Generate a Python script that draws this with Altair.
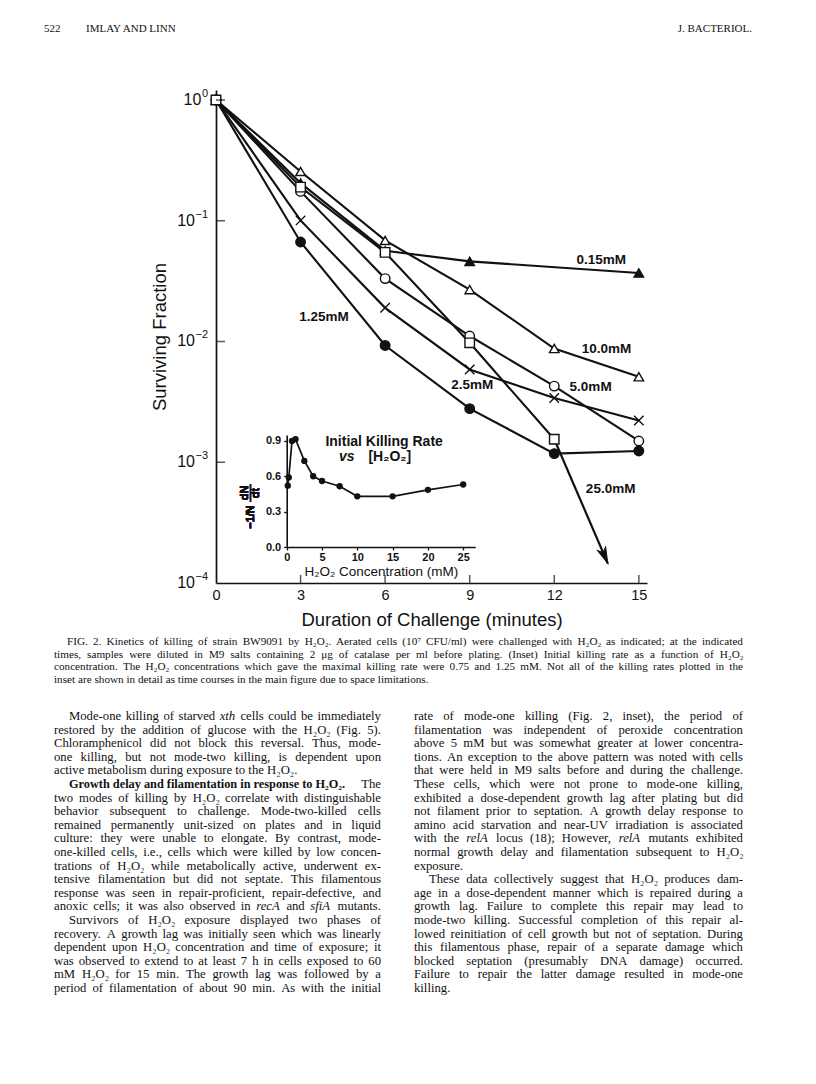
import altair as alt
import pandas as pd

# ---------------- data ----------------
times = [0, 3, 6, 9, 12, 15]
series_names = ["0.15mM", "10.0mM", "5.0mM", "2.5mM", "1.25mM", "25.0mM"]
surv_015 = [1.0, 0.205, 0.0565, 0.0461, None, 0.0369]
surv_100 = [1.0, 0.256, 0.0687, 0.0269, 0.00875, 0.0051]
surv_050 = [1.0, 0.175, 0.0332, 0.0111, 0.00427, 0.0015]
surv_025 = [1.0, 0.1007, 0.019, 0.00587, 0.0034, 0.00222]
surv_0125 = [1.0, 0.0667, 0.00927, 0.00278, 0.00118, 0.00124]
surv_250 = [1.0, 0.19, 0.0547, 0.00975, 0.00155, None]
arrow_times = [12, 13.9]
arrow_surv = [0.00155, 0.000145]

inset_conc = [0.15, 0.3, 0.75, 1.25, 2.5, 3.75, 5, 7.5, 10, 15, 20, 25]
inset_rate = [0.52, 0.59, 0.90, 0.915, 0.73, 0.60, 0.56, 0.515, 0.43, 0.43, 0.485, 0.53]

x_ticks = [0, 3, 6, 9, 12, 15]
y_ticks = [1, 0.1, 0.01, 0.001, 0.0001]
y_tick_exps = ["0", "−1", "−2", "−3", "−4"]
inset_x_ticks = [0, 5, 10, 15, 20, 25]
inset_y_ticks = [0.0, 0.3, 0.6, 0.9]

# series label anchors (data coordinates)
label_t = [13.67, 13.85, 13.29, 9.09, 3.83, 14.0]
label_s = [0.047, 0.00875, 0.00422, 0.00433, 0.016, 0.000605]

header_texts = ["522", "IMLAY AND LINN", "J. BACTERIOL."]
caption_lines = [
    "FIG. 2. Kinetics of killing of strain BW9091 by H₂O₂. Aerated cells (10⁷ CFU/ml) were challenged with H₂O₂ as indicated; at the indicated",
    "times, samples were diluted in M9 salts containing 2 μg of catalase per ml before plating. (Inset) Initial killing rate as a function of H₂O₂",
    "concentration. The H₂O₂ concentrations which gave the maximal killing rate were 0.75 and 1.25 mM. Not all of the killing rates plotted in the",
    "inset are shown in detail as time courses in the main figure due to space limitations.",
]
left_lines = [
    "Mode-one killing of starved xth cells could be immediately",
    "restored by the addition of glucose with the H₂O₂ (Fig. 5).",
    "Chloramphenicol did not block this reversal. Thus, mode-",
    "one killing, but not mode-two killing, is dependent upon",
    "active metabolism during exposure to the H₂O₂.",
    "",
    "two modes of killing by H₂O₂ correlate with distinguishable",
    "behavior subsequent to challenge. Mode-two-killed cells",
    "remained permanently unit-sized on plates and in liquid",
    "culture: they were unable to elongate. By contrast, mode-",
    "one-killed cells, i.e., cells which were killed by low concen-",
    "trations of H₂O₂ while metabolically active, underwent ex-",
    "tensive filamentation but did not septate. This filamentous",
    "response was seen in repair-proficient, repair-defective, and",
    "anoxic cells; it was also observed in recA and sfiA mutants.",
    "Survivors of H₂O₂ exposure displayed two phases of",
    "recovery. A growth lag was initially seen which was linearly",
    "dependent upon H₂O₂ concentration and time of exposure; it",
    "was observed to extend to at least 7 h in cells exposed to 60",
    "mM H₂O₂ for 15 min. The growth lag was followed by a",
    "period of filamentation of about 90 min. As with the initial",
]
left_heading = "Growth delay and filamentation in response to H₂O₂."
left_heading_tail = "The"
right_lines = [
    "rate of mode-one killing (Fig. 2, inset), the period of",
    "filamentation was independent of peroxide concentration",
    "above 5 mM but was somewhat greater at lower concentra-",
    "tions. An exception to the above pattern was noted with cells",
    "that were held in M9 salts before and during the challenge.",
    "These cells, which were not prone to mode-one killing,",
    "exhibited a dose-dependent growth lag after plating but did",
    "not filament prior to septation. A growth delay response to",
    "amino acid starvation and near-UV irradiation is associated",
    "with the relA locus (18); However, relA mutants exhibited",
    "normal growth delay and filamentation subsequent to H₂O₂",
    "exposure.",
    "These data collectively suggest that H₂O₂ produces dam-",
    "age in a dose-dependent manner which is repaired during a",
    "growth lag. Failure to complete this repair may lead to",
    "mode-two killing. Successful completion of this repair al-",
    "lowed reinitiation of cell growth but not of septation. During",
    "this filamentous phase, repair of a separate damage which",
    "blocked septation (presumably DNA damage) occurred.",
    "Failure to repair the latter damage resulted in mode-one",
    "killing.",
]
left_indent = [0, 5, 15]
left_ragged = [4]
right_indent = [12]
right_ragged = [11, 20]
italic_words = {"xth", "recA", "sfiA", "relA"}

# ---------------- layout constants ----------------
W, H = 431, 493          # main plot area
OX, OY = 216, 90         # page position of plot origin
INK = "#111111"
SANS = "Liberation Sans"
SERIF = "Liberation Serif"
X_PATH = "M-1,-1L1,1M-1,1L1,-1"
ARROW_PATH = "M0,0L-0.55,-2L0,-1.5L0.55,-2Z"

# ---------------- main chart ----------------
rows = []
for name, vals in zip(series_names, [surv_015, surv_100, surv_050, surv_025, surv_0125, surv_250]):
    for t, v in zip(times, vals):
        if v is not None:
            rows.append({"series": name, "t": t, "s": v})
df = pd.DataFrame(rows)

xscale = alt.Scale(domain=[0, 15.29], nice=False, zero=False)
yscale = alt.Scale(type="log", domain=[1e-4, 1.21], nice=False)

x_main = alt.X("t:Q", scale=xscale, axis=alt.Axis(
    orient="bottom", values=x_ticks, title="Duration of Challenge (minutes)",
    ticks=False, labelPadding=5, labelFontSize=14.5, labelFont=SANS, labelColor=INK,
    titleFont=SANS, titleFontSize=18.5, titleFontWeight="normal", titleColor=INK,
    titlePadding=9, domainColor=INK, domainWidth=1.7, grid=False, labelFlush=False))
y_main = alt.Y("s:Q", scale=yscale, axis=alt.Axis(
    orient="left", values=y_ticks, labels=False, ticks=False,
    title="Surviving Fraction", titleFont=SANS, titleFontSize=18.5,
    titleFontWeight="normal", titleColor=INK, titlePadding=47,
    domainColor=INK, domainWidth=1.7, grid=False))

lines = alt.Chart(df).mark_line(color=INK, strokeWidth=2.1).encode(
    x=x_main, y=y_main, detail="series:N")

arrow_df = pd.DataFrame({"t": arrow_times, "s": arrow_surv})
arrow_line = alt.Chart(arrow_df).mark_line(color=INK, strokeWidth=2.2).encode(x="t:Q", y="s:Q")
arrow_head = alt.Chart(arrow_df.iloc[[1]]).mark_point(
    shape=ARROW_PATH, filled=True, fill=INK, stroke=INK, strokeWidth=1, opacity=1,
    size=256, angle=337).encode(x="t:Q", y="s:Q")

markers = alt.Chart(df).mark_point(filled=True, stroke=INK, strokeWidth=1.4, opacity=1).encode(
    x="t:Q", y="s:Q",
    shape=alt.Shape("series:N", legend=None, scale=alt.Scale(
        domain=series_names,
        range=["triangle-up", "triangle-up", "circle", X_PATH, "circle", "square"])),
    fill=alt.Fill("series:N", legend=None, scale=alt.Scale(
        domain=series_names, range=[INK, "white", "white", "white", INK, "white"])),
    size=alt.Size("series:N", legend=None, scale=alt.Scale(
        domain=series_names, range=[90, 90, 70, 45, 55, 70])),
)

lab_df = pd.DataFrame({"label": series_names, "t": label_t, "s": label_s})
labels = alt.Chart(lab_df).mark_text(
    font=SANS, fontSize=13.5, fontWeight="bold", color=INK, align="center", baseline="middle"
).encode(x="t:Q", y="s:Q", text="label:N")

xt = alt.Chart(pd.DataFrame({"t": x_ticks[1:]})).mark_tick(
    color=INK, thickness=1.5, size=8).encode(x="t:Q", y=alt.value(H - 4))
yt = alt.Chart(pd.DataFrame({"s": y_ticks[:-1]})).mark_tick(
    color=INK, thickness=1.5, size=9).encode(y="s:Q", x=alt.value(4.5))

# y tick labels: "10" with a raised exponent
ylab_df = pd.DataFrame({"s": y_ticks, "exp": y_tick_exps})
EXP_RIGHT = -8
y_exp = alt.Chart(ylab_df).mark_text(
    font=SANS, fontSize=11, color=INK, align="right", baseline="middle", dy=-6
).encode(y="s:Q", x=alt.value(EXP_RIGHT), text="exp:N")
y_ten0 = alt.Chart(ylab_df.iloc[[0]]).mark_text(
    font=SANS, fontSize=16, color=INK, align="right", baseline="middle"
).encode(y="s:Q", x=alt.value(EXP_RIGHT - 6.6), text=alt.value("10"))
y_ten = alt.Chart(ylab_df.iloc[1:]).mark_text(
    font=SANS, fontSize=16, color=INK, align="right", baseline="middle"
).encode(y="s:Q", x=alt.value(EXP_RIGHT - 13.0), text=alt.value("10"))

main = alt.layer(lines, arrow_line, arrow_head, markers, labels, xt, yt, y_exp, y_ten0, y_ten)

# ---------------- inset ----------------
inset_df = pd.DataFrame({"conc": inset_conc, "rate": inset_rate})
ix_scale = alt.Scale(domain=[0, 26.7], range=[70.7, 259.2], nice=False, zero=False)
iy_scale = alt.Scale(domain=[0, 0.95], range=[457, 345], nice=False, zero=False)
ix = alt.X("conc:Q", scale=ix_scale, axis=alt.Axis(
    orient="bottom", offset=-36, values=inset_x_ticks, title="H₂O₂ Concentration (mM)",
    tickSize=3, tickColor=INK, tickWidth=1.3, labelPadding=1, labelFontSize=11,
    labelFontWeight="bold", labelFont=SANS, labelColor=INK, titleFont=SANS, titleFontSize=13.5,
    titleFontWeight="normal", titleColor=INK, titlePadding=2, domainColor=INK,
    domainWidth=1.6, grid=False, labelFlush=False))
iy = alt.Y("rate:Q", scale=iy_scale, axis=alt.Axis(
    orient="left", offset=-70.7, values=inset_y_ticks, format=".1f", title=None,
    tickSize=3, tickColor=INK, tickWidth=1.3, labelPadding=3, labelFontSize=11,
    labelFontWeight="bold", labelFont=SANS, labelColor=INK, domainColor=INK,
    domainWidth=1.6, grid=False, labelFlush=False))

i_line = alt.Chart(inset_df).mark_line(color=INK, strokeWidth=1.7).encode(x=ix, y=iy)
i_pts = alt.Chart(inset_df).mark_circle(color=INK, size=40, opacity=1).encode(x="conc:Q", y="rate:Q")

ititle_df = pd.DataFrame({"conc": [13.8], "rate": [0.889], "text": ["Initial Killing Rate"]})
i_title = alt.Chart(ititle_df).mark_text(font=SANS, fontSize=14, fontWeight="bold", color=INK).encode(
    x="conc:Q", y="rate:Q", text="text:N")
ivs_df = pd.DataFrame({"conc": [8.5], "rate": [0.767], "text": ["vs"]})
i_vs = alt.Chart(ivs_df).mark_text(font=SANS, fontSize=14, fontWeight="bold", fontStyle="italic",
                                   color=INK).encode(x="conc:Q", y="rate:Q", text="text:N")
ih_df = pd.DataFrame({"conc": [14.6], "rate": [0.767], "text": ["[H₂O₂]"]})
i_h = alt.Chart(ih_df).mark_text(font=SANS, fontSize=14, fontWeight="bold", color=INK).encode(
    x="conc:Q", y="rate:Q", text="text:N")

# y-axis title of the inset: -1/N dN/dt (rotated)
i_yt1 = alt.Chart(inset_df).mark_text(font=SANS, fontSize=11, fontWeight="bold", angle=270,
                                      color=INK).encode(
    x=alt.value(251 - OX), y=alt.value(517 - OY), text=alt.value("−1/N"))
i_yt2 = alt.Chart(inset_df).mark_text(font=SANS, fontSize=11, fontWeight="bold", angle=270,
                                      color=INK).encode(
    x=alt.value(245 - OX), y=alt.value(493 - OY), text=alt.value("dN"))
i_yt3 = alt.Chart(inset_df).mark_text(font=SANS, fontSize=11, fontWeight="bold", angle=270,
                                      color=INK).encode(
    x=alt.value(256 - OX), y=alt.value(493 - OY), text=alt.value("dt"))
i_bar = alt.Chart(inset_df).mark_rule(color=INK, strokeWidth=1.1).encode(
    x=alt.value(250.5 - OX), y=alt.value(484 - OY), y2=alt.value(502 - OY))

inset = alt.layer(i_line, i_pts, i_title, i_vs, i_h, i_yt1, i_yt2, i_yt3, i_bar)

# ---------------- page text (justified word by word) ----------------
TIMES_W = {' ': 250, '!': 333, '"': 408, "'": 180, '(': 333, ')': 333, ',': 250, '-': 333,
           '.': 250, '/': 278, ':': 278, ';': 278, '?': 444, '[': 333, ']': 333,
           'A': 722, 'B': 667, 'C': 667, 'D': 722, 'E': 611, 'F': 556, 'G': 722, 'H': 722,
           'I': 333, 'J': 389, 'K': 722, 'L': 611, 'M': 889, 'N': 722, 'O': 722, 'P': 556,
           'Q': 722, 'R': 667, 'S': 556, 'T': 611, 'U': 722, 'V': 722, 'W': 944, 'X': 722,
           'Y': 722, 'Z': 611, 'a': 444, 'b': 500, 'c': 444, 'd': 500, 'e': 444, 'f': 333,
           'g': 500, 'h': 500, 'i': 278, 'j': 278, 'k': 500, 'l': 278, 'm': 778, 'n': 500,
           'o': 500, 'p': 500, 'q': 500, 'r': 333, 's': 389, 't': 278, 'u': 500, 'v': 500,
           'w': 722, 'x': 500, 'y': 500, 'z': 444, '₂': 320, '⁷': 320, 'μ': 520}


def tw(word, size):
    return sum(TIMES_W.get(c, 500) for c in word) / 1000.0 * size


def justify(lines, x_left, x_right, y0, dy, size, indents=(), ragged=(), indent=15, first_x=None):
    normal, italic = [], []
    for i, line in enumerate(lines):
        if not line:
            continue
        words = line.split()
        x0 = x_left + (indent if i in indents else 0)
        if i == 0 and first_x is not None:
            x0 = first_x
        widths = [tw(w, size) for w in words]
        if i in ragged or len(words) == 1:
            gap = tw(' ', size)
        else:
            gap = max((x_right - x0 - sum(widths)) / (len(words) - 1), 0.2 * size)
        x = x0
        for w, wd in zip(words, widths):
            row = {"text": w, "px": x - OX, "py": y0 + i * dy - OY}
            (italic if w.strip(".,;:()") in italic_words else normal).append(row)
            x += wd + gap
    return (pd.DataFrame(normal, columns=["text", "px", "py"]),
            pd.DataFrame(italic, columns=["text", "px", "py"]))


def page_text(df_, size, weight="normal", style="normal", align="left", font=SERIF):
    return alt.Chart(df_).mark_text(
        align=align, baseline="middle", fontSize=size, font=font, fontWeight=weight,
        fontStyle=style, color=INK
    ).encode(x=alt.X("px:Q", scale=None, axis=None),
             y=alt.Y("py:Q", scale=None, axis=None), text="text:N")


COL_L = (54, 381)
COL_R = (414, 743)
BODY_SIZE, CAP_SIZE, HEAD_BOLD_SIZE = 12.7, 11.2, 12.3
LINE0, LSP = 716, 13.6

head_df = pd.DataFrame({"text": header_texts[:2], "px": [44 - OX, 86 - OX], "py": [29 - OY] * 2})
head_r_df = pd.DataFrame({"text": header_texts[2:], "px": [752 - OX], "py": [29 - OY]})

cap_n, cap_i = justify(caption_lines, 54, 743, 642, 12.6, CAP_SIZE,
                       ragged=[len(caption_lines) - 1], first_x=67)
left_n, left_i = justify(left_lines, COL_L[0], COL_L[1], LINE0, LSP, BODY_SIZE,
                         indents=left_indent, ragged=left_ragged)
right_n, right_i = justify(right_lines, COL_R[0], COL_R[1], LINE0, LSP, BODY_SIZE,
                           indents=right_indent, ragged=right_ragged)
body_n = pd.concat([left_n, right_n], ignore_index=True)
body_i = pd.concat([left_i, right_i], ignore_index=True)

bold_df = pd.DataFrame({"text": [left_heading], "px": [69 - OX], "py": [LINE0 + 5 * LSP - OY]})
tail_df = pd.DataFrame({"text": [left_heading_tail], "px": [COL_L[1] - OX], "py": [LINE0 + 5 * LSP - OY]})

pagetext = alt.layer(
    page_text(head_df, 11),
    page_text(head_r_df, 11, align="right"),
    page_text(cap_n, CAP_SIZE),
    page_text(body_n, BODY_SIZE),
    page_text(body_i, BODY_SIZE, style="italic"),
    page_text(bold_df, HEAD_BOLD_SIZE, weight="bold"),
    page_text(tail_df, BODY_SIZE, align="right"),
)

chart = alt.layer(main, inset, pagetext).resolve_scale(
    x="independent", y="independent"
).properties(
    width=W, height=H,
    padding={"left": 208, "top": 82, "right": 161, "bottom": 493},
    autosize=alt.AutoSizeParams(type="none"),
    background="white",
).configure_view(strokeWidth=0)

chart.save("out.html", embed_options={"renderer": "svg", "actions": False})
